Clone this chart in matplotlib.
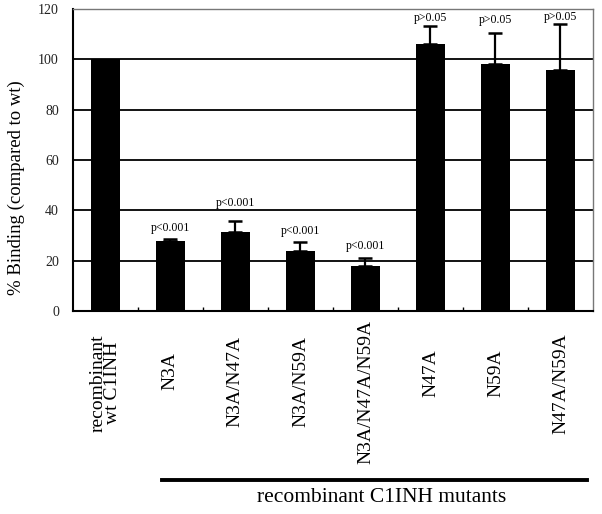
import matplotlib
matplotlib.use("Agg")
import matplotlib.pyplot as plt
import numpy as np

# Data
labels = ["recombinant\nwt C1INH", "N3A", "N3A/N47A", "N3A/N59A",
          "N3A/N47A/N59A", "N47A", "N59A", "N47A/N59A"]
binding = [100, 28.0, 31.3, 24.0, 18.0, 106.2, 98.0, 95.9]
errors = [0, 0.5, 4.3, 3.4, 2.9, 7.2, 12.3, 18.1]
pvalues = ["", "p<0.001", "p<0.001", "p<0.001", "p<0.001",
           "p>0.05", "p>0.05", "p>0.05"]
yticks = [0, 20, 40, 60, 80, 100, 120]
group_label = "recombinant C1INH mutants"

plt.rcParams['font.family'] = ['Liberation Serif', 'DejaVu Serif']

W, H = 602, 514
fig = plt.figure(figsize=(W / 100, H / 100), dpi=100)
ax = fig.add_axes([0.121, 0.395, 0.864, 0.5875])

x = np.arange(len(labels))

# gridlines behind the bars
for v in yticks[1:-1]:
    ax.axhline(v, color='black', lw=1.3, zorder=0)

ax.bar(x, binding, width=0.44, color='black', zorder=2)
err_x = x[1:]
ax.errorbar(err_x, np.array(binding[1:]), yerr=[np.zeros(len(err_x)), np.array(errors[1:])],
            fmt='none', ecolor='black', elinewidth=1.6, capsize=5, capthick=1.8, zorder=3)

# p-value labels above the error bars
offsets = [0, 4.5, 7.5, 4.5, 5, 3, 5.5, 2.8]
for i in range(1, len(labels)):
    ax.text(x[i], binding[i] + errors[i] + offsets[i], pvalues[i],
            ha='center', va='center', fontsize=8.5, zorder=4)

ax.set_xlim(-0.5, len(labels) - 0.5)
ax.set_ylim(0, 120)
ax.set_yticks(yticks)
ax.tick_params(axis='y', length=0, pad=10, labelsize=10, labelcolor='#222222')
ax.set_xticks(np.arange(0.5, len(labels) - 0.5, 1.0))
ax.set_xticklabels([])
ax.tick_params(axis='x', direction='in', length=3, width=1)

for side in ['left', 'bottom']:
    ax.spines[side].set_linewidth(1.5)
    ax.spines[side].set_color('black')
for side in ['top', 'right']:
    ax.spines[side].set_linewidth(1.0)
    ax.spines[side].set_color('#777777')

fig.text(16.5 / W, 1 - 188 / H, "% Binding (compared to wt)", rotation=90,
         ha='center', va='center', fontsize=13.5)

# category labels, rotated, below the axis
trans = matplotlib.transforms.blended_transform_factory(ax.transData, fig.transFigure)
texts = []
for i, lab in enumerate(labels):
    t = ax.text(x[i], 0.3, lab, rotation=90, ha='center', va='top',
                fontsize=14, transform=trans, linespacing=0.85)
    texts.append(t)
fig.canvas.draw()
for t in texts:
    L = t.get_window_extent().height
    t.set_y(1 - (363.7 - 0.305 * L) / H)

# group bar and label for the mutants
line_y = 1 - 480 / H
ax.plot([0.87, 7.41], [line_y, line_y], color='black', lw=2.8,
        transform=trans, clip_on=False)
ax.text(4.25, 1 - 498 / H, group_label, ha='center', va='center',
        fontsize=15.5, transform=trans)

fig.savefig("out.png", dpi=100)
